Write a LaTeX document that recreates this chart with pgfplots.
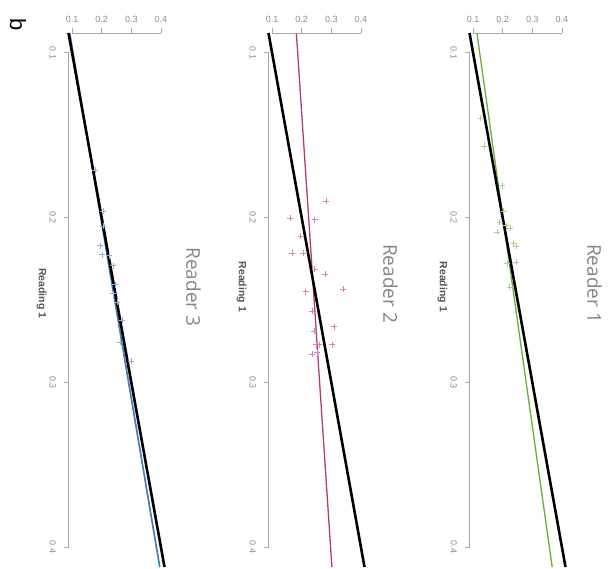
\documentclass[border=0pt]{standalone}
\usepackage{pgfplots}
\pgfplotsset{compat=1.18}
\usepackage{fontspec}
\setmainfont{Liberation Sans}
\newfontfamily\titlefont{Open Sans}

\definecolor{axgray}{HTML}{A8A8A8}
\definecolor{tickgray}{HTML}{8C8C8C}
\definecolor{labgray}{HTML}{555555}
\definecolor{titlegray}{HTML}{858585}
\definecolor{gline}{HTML}{6CAA3C}
\definecolor{gpt}{HTML}{A9D08E}
\definecolor{mline}{HTML}{B03C7C}
\definecolor{mpt}{HTML}{D483AD}
\definecolor{bline}{HTML}{4A7CB4}
\definecolor{bpt}{HTML}{90B2DA}

\pgfplotsset{
 panel/.style={
  scale only axis, width=96pt, height=534pt,
  xmin=0.088, xmax=0.412, ymin=0.088, ymax=0.412,
  y dir=reverse,
  axis line style={draw=none},
  xtick={0.1,0.2,0.3,0.4}, ytick={0.1,0.2,0.3,0.4},
  xtick pos=upper, ytick pos=left,
  xticklabel pos=upper, yticklabel pos=left,
  tick align=outside,
  major tick length=5pt,
  major tick style={draw=axgray, line width=0.8pt},
  tick label style={font=\fontsize{9}{9}\selectfont, text=tickgray},
  /pgf/number format/assume math mode=true,
  /pgf/number format/fixed, /pgf/number format/precision=1,
  yticklabel style={rotate=-90, anchor=north},
  yticklabel shift=4pt,
  xticklabel shift=1.5pt,
  clip=false,
 },
 pts/.style={only marks, mark=+, mark size=3pt, line width=0.55pt, #1},
}

\begin{document}
\begin{tikzpicture}
% ---------- Reader 3 ----------
\begin{axis}[panel, at={(68.5pt,-33pt)}, anchor=north west]
\addplot[pts=bpt] coordinates {
(0.1777,0.1713) (0.2057,0.1962) (0.2037,0.2053) (0.1946,0.2170) (0.2014,0.2224)
(0.2260,0.2230) (0.2375,0.2291) (0.2453,0.2406) (0.2375,0.2461) (0.2530,0.2513)
(0.2679,0.2622) (0.2622,0.2756) (0.2983,0.2871)};
\addplot[bline, line width=1.7pt] coordinates {(0.092,0.088) (0.396,0.412)};
\addplot[black, line width=2.6pt] coordinates {(0.088,0.088) (0.412,0.412)};
\draw[axgray, line width=0.8pt] (axis cs:0.088,0.1) -- (axis cs:0.088,0.4);
\draw[axgray, line width=0.8pt] (axis cs:0.1,0.088) -- (axis cs:0.4,0.088);
\node[rotate=-90, text=labgray, font=\fontsize{10.5}{10.5}\selectfont\bfseries] at ([xshift=-27pt]axis cs:0.088,0.246) {Reading 1};
\node[rotate=-90, text=titlegray, font=\titlefont\fontsize{19}{19}\selectfont] at ([xshift=29pt]axis cs:0.412,0.242) {Reader 3};
\end{axis}
% ---------- Reader 2 ----------
\begin{axis}[panel, at={(268.5pt,-33pt)}, anchor=north west]
\addplot[pts=mpt] coordinates {
(0.2823,0.1901) (0.1600,0.2002) (0.2433,0.2012) (0.1967,0.2113) (0.1677,0.2214)
(0.2043,0.2214) (0.2433,0.2311) (0.2790,0.2341) (0.3410,0.2432) (0.2133,0.2450)
(0.2357,0.2568) (0.3100,0.2662) (0.2410,0.2689) (0.2490,0.2770) (0.2600,0.2770)
(0.3023,0.2770) (0.2343,0.2830) (0.2523,0.2820)};
\addplot[mline, line width=1.3pt] coordinates {(0.182,0.088) (0.302,0.412)};
\addplot[black, line width=2.6pt] coordinates {(0.088,0.088) (0.412,0.412)};
\draw[axgray, line width=0.8pt] (axis cs:0.088,0.1) -- (axis cs:0.088,0.4);
\draw[axgray, line width=0.8pt] (axis cs:0.1,0.088) -- (axis cs:0.4,0.088);
\node[rotate=-90, text=labgray, font=\fontsize{10.5}{10.5}\selectfont\bfseries] at ([xshift=-27pt]axis cs:0.088,0.242) {Reading 1};
\node[rotate=-90, text=titlegray, font=\titlefont\fontsize{19}{19}\selectfont] at ([xshift=26pt]axis cs:0.412,0.240) {Reader 2};
\end{axis}
% ---------- Reader 1 ----------
\begin{axis}[panel, at={(469.5pt,-33pt)}, anchor=north west]
\addplot[pts=gpt] coordinates {
(0.1257,0.1396) (0.1367,0.1568) (0.1990,0.1806) (0.2033,0.1962) (0.1900,0.2028)
(0.2123,0.2048) (0.2257,0.2062) (0.1810,0.2089) (0.2367,0.2158) (0.2457,0.2174)
(0.2143,0.2279) (0.2457,0.2271) (0.2233,0.2420)};
\addplot[gline, line width=1.3pt] coordinates {(0.113,0.088) (0.367,0.412)};
\addplot[black, line width=2.6pt] coordinates {(0.088,0.088) (0.412,0.412)};
\draw[axgray, line width=0.8pt] (axis cs:0.088,0.1) -- (axis cs:0.088,0.4);
\draw[axgray, line width=0.8pt] (axis cs:0.1,0.088) -- (axis cs:0.4,0.088);
\node[rotate=-90, text=labgray, font=\fontsize{10.5}{10.5}\selectfont\bfseries] at ([xshift=-27pt]axis cs:0.088,0.242) {Reading 1};
\node[rotate=-90, text=titlegray, font=\titlefont\fontsize{19}{19}\selectfont] at ([xshift=29pt]axis cs:0.412,0.240) {Reader 1};
\end{axis}
\node[rotate=-90, font=\fontsize{22}{22}\selectfont] at (18pt,-25pt) {b};
\pgfresetboundingbox
\useasboundingbox (0pt,0pt) rectangle (610pt,-569pt);
\end{tikzpicture}
\end{document}
